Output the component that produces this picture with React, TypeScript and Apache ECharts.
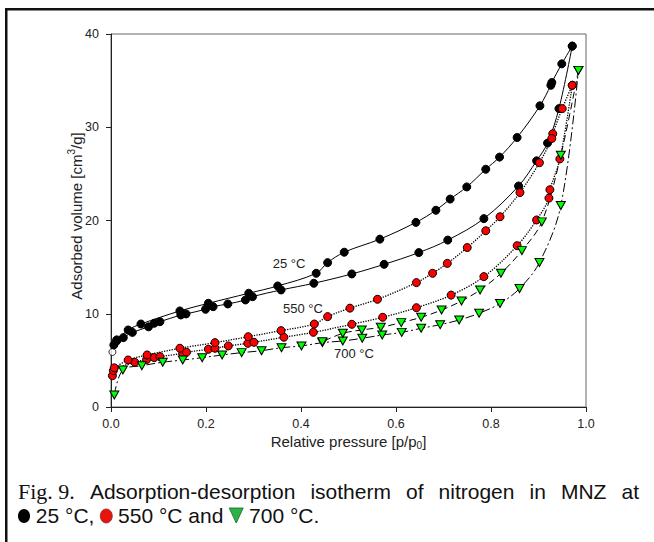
import React, { useEffect, useRef } from "react";
import * as echarts from "echarts";

// ---------- data ----------
const xTicks = [0, 0.2, 0.4, 0.6, 0.8, 1.0];
const yTicks = [0, 10, 20, 30, 40];

// 25 °C
const x25Ads = [0.006, 0.012, 0.026, 0.045, 0.079, 0.091, 0.103, 0.147, 0.158, 0.199, 0.215, 0.246, 0.283, 0.298, 0.358, 0.427, 0.507, 0.575, 0.648, 0.709, 0.785, 0.858, 0.896, 0.919, 0.943, 0.971];
const y25Ads = [6.65, 7.08, 7.44, 8.0, 8.6, 8.98, 9.15, 9.87, 9.98, 10.48, 10.76, 11.05, 11.48, 11.83, 12.55, 13.27, 14.27, 15.3, 16.56, 17.9, 20.2, 23.7, 26.4, 28.3, 32.0, 38.7];
const x25Des = [0.971, 0.949, 0.928, 0.926, 0.903, 0.855, 0.818, 0.789, 0.749, 0.714, 0.684, 0.642, 0.566, 0.491, 0.456, 0.432, 0.351, 0.29, 0.205, 0.145, 0.063, 0.036, 0.012];
const y25Des = [38.7, 36.8, 34.8, 34.5, 32.3, 28.9, 26.8, 25.5, 23.6, 22.3, 21.1, 19.8, 18.0, 16.6, 15.48, 14.34, 12.98, 12.2, 11.12, 10.3, 8.9, 8.26, 7.2];
const x25Open = [0.003];
const y25Open = [5.9];

// 550 °C
const x550Ads = [0.003, 0.005, 0.05, 0.075, 0.091, 0.103, 0.151, 0.159, 0.205, 0.219, 0.247, 0.288, 0.301, 0.364, 0.426, 0.507, 0.572, 0.643, 0.716, 0.785, 0.855, 0.896, 0.922, 0.924, 0.945, 0.971];
const y550Ads = [3.36, 3.9, 4.8, 5.1, 5.3, 5.4, 5.75, 5.87, 6.19, 6.3, 6.55, 6.83, 6.94, 7.48, 8.01, 8.87, 9.62, 10.65, 12.0, 13.98, 17.3, 20.06, 22.4, 23.3, 26.6, 34.5];
const x550Des = [0.971, 0.95, 0.93, 0.928, 0.902, 0.861, 0.819, 0.789, 0.75, 0.708, 0.677, 0.643, 0.561, 0.503, 0.456, 0.428, 0.358, 0.289, 0.219, 0.145, 0.076, 0.036, 0.007];
const y550Des = [34.5, 32.0, 29.3, 28.8, 26.2, 23.0, 20.4, 18.9, 17.1, 15.4, 14.34, 13.34, 11.55, 10.6, 9.69, 8.9, 8.19, 7.54, 6.9, 6.3, 5.58, 5.04, 4.2];

// 700 °C
const x700Ads = [0.007, 0.025, 0.065, 0.109, 0.151, 0.192, 0.234, 0.275, 0.317, 0.359, 0.401, 0.445, 0.488, 0.529, 0.571, 0.612, 0.653, 0.693, 0.733, 0.775, 0.819, 0.86, 0.902, 0.947, 0.984];
const y700Ads = [1.29, 3.97, 4.43, 4.8, 5.04, 5.29, 5.58, 5.83, 6.04, 6.36, 6.55, 6.9, 7.08, 7.37, 7.72, 8.0, 8.44, 8.83, 9.33, 10.05, 11.1, 12.7, 15.5, 21.6, 36.1];
const x700Des = [0.984, 0.947, 0.907, 0.865, 0.821, 0.777, 0.738, 0.696, 0.653, 0.611, 0.568, 0.528, 0.488, 0.445];
const y700Des = [36.1, 27.0, 19.85, 16.77, 14.34, 12.55, 11.37, 10.4, 9.62, 9.05, 8.55, 8.26, 7.9, 7.0];

const seriesLabels = ["25 °C", "550 °C", "700 °C"];
const captionLine1Words = ["Adsorption-desorption", "isotherm", "of", "nitrogen", "in", "MNZ", "at"];
const captionFig = "Fig. 9.";
const captionLine2 = ["25 °C,", "550 °C and", "700 °C."];

const zip = (xs: number[], ys: number[]) => xs.map((x, i) => [x, ys[i]]);

const SANS = "Liberation Sans, Arial, sans-serif";
const SERIF = "Liberation Serif, Times New Roman, serif";

function measure(text: string, font: string): number {
  const c = document.createElement("canvas").getContext("2d");
  if (!c) return text.length * 10;
  c.font = font;
  return c.measureText(text).width;
}

export default function App() {
  const ref = useRef<HTMLDivElement>(null);

  useEffect(() => {
    document.body.style.margin = "0";
    if (!ref.current) return;
    const chart = echarts.init(ref.current, undefined, { renderer: "svg" });

    const lineSeries = (
      data: number[][],
      lineType: any,
      symbol: string,
      size: any,
      fill: string,
      rotate = 0,
      lw = 1
    ) => ({
      type: "line",
      data,
      smooth: 0.35,
      symbol,
      symbolSize: size,
      symbolRotate: rotate,
      showAllSymbol: true,
      lineStyle: { color: "#000", width: lw, type: lineType },
      itemStyle: { color: fill, borderColor: "#000", borderWidth: 1 },
      emphasis: { disabled: true },
      silent: true,
    });

    // ---------- caption layout (justified first line) ----------
    const sansFont = `21px ${SANS}`;
    const serifFont = `22px ${SERIF}`;
    const left = 18;
    const right = 639;
    const figW = measure(captionFig, serifFont);
    const wordsW = captionLine1Words.map((w) => measure(w, sansFont));
    const totalW = figW + wordsW.reduce((a, b) => a + b, 0);
    const gap = (right - left - totalW) / captionLine1Words.length;
    const line1Y = 491;
    const line2Y = 515;
    const capGraphics: any[] = [];
    capGraphics.push({
      type: "text",
      x: left,
      y: line1Y,
      style: { text: captionFig, font: serifFont, fill: "#111", textAlign: "left", textVerticalAlign: "middle" },
    });
    let cx = left + figW + gap;
    captionLine1Words.forEach((w, i) => {
      capGraphics.push({
        type: "text",
        x: cx,
        y: line1Y,
        style: { text: w, font: sansFont, fill: "#111", textAlign: "left", textVerticalAlign: "middle" },
      });
      cx += wordsW[i] + gap;
    });

    // second line with symbols
    let x2 = 18;
    const spaceW = measure(" ", sansFont);
    capGraphics.push({
      type: "ellipse",
      shape: { cx: x2 + 6, cy: line2Y + 1, rx: 6, ry: 7 },
      style: { fill: "#000" },
    });
    x2 += 12 + spaceW;
    capGraphics.push({
      type: "text",
      x: x2,
      y: line2Y,
      style: { text: captionLine2[0], font: sansFont, fill: "#111", textAlign: "left", textVerticalAlign: "middle" },
    });
    x2 += measure(captionLine2[0], sansFont) + spaceW;
    capGraphics.push({
      type: "ellipse",
      shape: { cx: x2 + 6, cy: line2Y + 1, rx: 6, ry: 7 },
      style: { fill: "#e8140c", stroke: "#8a2a22", lineWidth: 0.8 },
    });
    x2 += 12 + spaceW;
    capGraphics.push({
      type: "text",
      x: x2,
      y: line2Y,
      style: { text: captionLine2[1], font: sansFont, fill: "#111", textAlign: "left", textVerticalAlign: "middle" },
    });
    x2 += measure(captionLine2[1], sansFont) + spaceW;
    capGraphics.push({
      type: "polygon",
      shape: { points: [[x2, line2Y - 7], [x2 + 14, line2Y - 7], [x2 + 7, line2Y + 8]] },
      style: { fill: "#2fb14a", stroke: "#0d6a22", lineWidth: 0.8 },
    });
    x2 += 14 + spaceW;
    capGraphics.push({
      type: "text",
      x: x2,
      y: line2Y,
      style: { text: captionLine2[2], font: sansFont, fill: "#111", textAlign: "left", textVerticalAlign: "middle" },
    });

    const option: any = {
      animation: false,
      backgroundColor: "#ffffff",
      grid: {
        left: 111,
        right: 68,
        top: 34,
        bottom: 135,
        show: true,
        borderColor: "#666",
        borderWidth: 1,
        backgroundColor: "transparent",
      },
      xAxis: {
        type: "value",
        min: xTicks[0],
        max: xTicks[xTicks.length - 1],
        interval: 0.2,
        axisLine: { show: true, onZero: false, lineStyle: { color: "#222", width: 1 } },
        axisTick: { show: true, length: 5, lineStyle: { color: "#222" } },
        splitLine: { show: false },
        axisLabel: {
          formatter: (v: number) => v.toFixed(1),
          color: "#222",
          fontSize: 12.5,
          fontFamily: SANS,
          margin: 10,
        },
      },
      yAxis: {
        type: "value",
        min: yTicks[0],
        max: yTicks[yTicks.length - 1],
        interval: 10,
        axisLine: { show: true, onZero: false, lineStyle: { color: "#222", width: 1 } },
        axisTick: { show: true, length: 5, lineStyle: { color: "#222" } },
        splitLine: { show: false },
        axisLabel: { color: "#222", fontSize: 12.5, fontFamily: SANS, margin: 12 },
      },
      series: [
        lineSeries(zip(x25Ads, y25Ads), "solid", "circle", 8, "#000"),
        lineSeries(zip(x25Des, y25Des), "solid", "circle", 8, "#000"),
        {
          type: "scatter",
          data: zip(x25Open, y25Open),
          symbol: "circle",
          symbolSize: 7,
          itemStyle: { color: "#fff", borderColor: "#000", borderWidth: 1 },
          silent: true,
        },
        lineSeries(zip(x550Ads, y550Ads), "dotted", "circle", 8, "#ff0000", 0, 1.3),
        lineSeries(zip(x550Des, y550Des), "dotted", "circle", 8, "#ff0000", 0, 1.3),
        lineSeries(zip(x700Ads, y700Ads), [9, 3, 2, 3], "triangle", [9, 8], "#00ff00", 180),
        lineSeries(zip(x700Des, y700Des), [7, 4], "triangle", [9, 8], "#00ff00", 180),
      ],
      graphic: [
        { type: "rect", shape: { x: 5, y: 8, width: 649, height: 2.5 }, style: { fill: "#111" } },
        { type: "rect", shape: { x: 5, y: 8, width: 2.5, height: 534 }, style: { fill: "#111" } },
        {
          type: "text",
          x: 76,
          y: 216,
          rotation: Math.PI / 2,
          style: {
            text: "Adsorbed volume [cm{sup|3}/g]",
            font: `15px ${SANS}`,
            fill: "#222",
            textAlign: "center",
            textVerticalAlign: "middle",
            lineHeight: 19,
            rich: { sup: { fontSize: 10, fontFamily: SANS, verticalAlign: "top", lineHeight: 12, fill: "#222" } },
          },
        },
        {
          type: "text",
          x: 348.5,
          y: 441,
          style: {
            text: "Relative pressure [p/p{sub|0}]",
            font: `15px ${SANS}`,
            fill: "#222",
            textAlign: "center",
            textVerticalAlign: "middle",
            lineHeight: 19,
            rich: { sub: { fontSize: 10, fontFamily: SANS, verticalAlign: "bottom", lineHeight: 12, fill: "#222" } },
          },
        },
        { type: "text", x: 289, y: 263, style: { text: seriesLabels[0], font: `13px ${SANS}`, fill: "#222", textAlign: "center", textVerticalAlign: "middle" } },
        { type: "text", x: 303, y: 308, style: { text: seriesLabels[1], font: `13px ${SANS}`, fill: "#222", textAlign: "center", textVerticalAlign: "middle" } },
        { type: "text", x: 354, y: 353, style: { text: seriesLabels[2], font: `13px ${SANS}`, fill: "#222", textAlign: "center", textVerticalAlign: "middle" } },
        ...capGraphics,
      ],
    };

    chart.setOption(option);
    return () => {
      chart.dispose();
    };
  }, []);

  return (
    <div
      ref={ref}
      style={{ position: "fixed", left: 0, top: 0, width: 654, height: 542, background: "#fff" }}
    />
  );
}
